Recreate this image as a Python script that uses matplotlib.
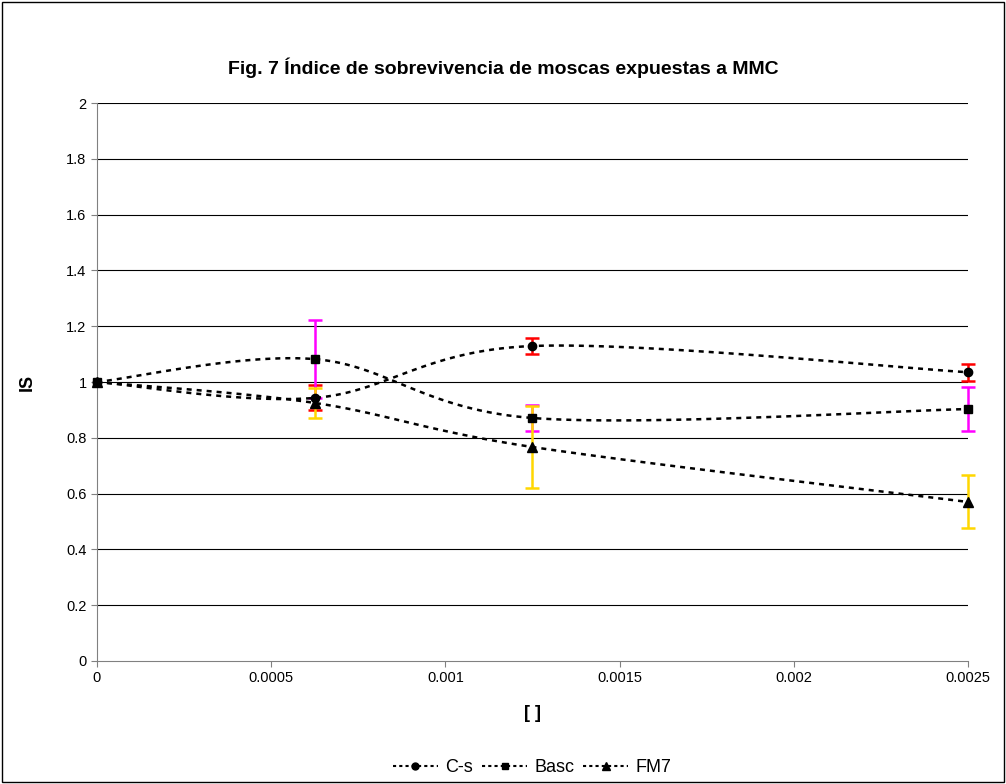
import numpy as np
import matplotlib.pyplot as plt
from matplotlib.patches import Rectangle

plt.rcParams['font.family'] = ['Liberation Sans', 'DejaVu Sans']

# datos
conc = [0, 0.000625, 0.00125, 0.0025]
cs = [1.0, 0.943, 1.129, 1.035]
cs_err = [0, 0.045, 0.03, 0.03]
basc = [1.0, 1.082, 0.871, 0.903]
basc_err = [0, 0.14, 0.047, 0.08]
fm7 = [1.0, 0.925, 0.767, 0.57]
fm7_err = [0, 0.055, 0.147, 0.095]

xticks = [0, 0.0005, 0.001, 0.0015, 0.002, 0.0025]
xlabels = ['0', '0.0005', '0.001', '0.0015', '0.002', '0.0025']
yticks = [0, 0.2, 0.4, 0.6, 0.8, 1, 1.2, 1.4, 1.6, 1.8, 2]
ylabels = ['0', '0.2', '0.4', '0.6', '0.8', '1', '1.2', '1.4', '1.6', '1.8', '2']


def suavizar(x, y, n=40):
    # curva tipo Excel (Catmull-Rom en forma Bezier)
    x = np.asarray(x, float)
    y = np.asarray(y, float)
    px = np.concatenate([[x[0]], x, [x[-1]]])
    py = np.concatenate([[y[0]], y, [y[-1]]])
    xs, ys = [], []
    t = np.linspace(0, 1, n)
    for i in range(1, len(px) - 2):
        p0 = np.array([px[i], py[i]])
        p3 = np.array([px[i + 1], py[i + 1]])
        c1 = p0 + (p3 - np.array([px[i - 1], py[i - 1]])) / 6
        c2 = p3 - (np.array([px[i + 2], py[i + 2]]) - p0) / 6
        b = ((1 - t) ** 3)[:, None] * p0 + (3 * (1 - t) ** 2 * t)[:, None] * c1 \
            + (3 * (1 - t) * t ** 2)[:, None] * c2 + (t ** 3)[:, None] * p3
        xs.extend(b[:, 0])
        ys.extend(b[:, 1])
    return xs, ys


fig = plt.figure(figsize=(10.06, 7.84), dpi=100)
fig.patches.append(Rectangle((0.002, 0.002), 0.996, 0.996, transform=fig.transFigure,
                             fill=False, edgecolor='black', linewidth=1))
ax = fig.add_axes([0.0964, 0.1569, 0.8658, 0.7117])

for v in yticks[1:]:
    ax.axhline(v, color='black', linewidth=0.8, zorder=1)

series = [
    (cs, cs_err, 'o', 6, '#FF0000', 'C-s'),
    (basc, basc_err, 's', 6, '#FF00FF', 'Basc'),
    (fm7, fm7_err, '^', 7, '#FFD700', 'FM7'),
]
for vals, err, mk, ms, ecol, lab in series:
    eb = ax.errorbar(conc[1:], vals[1:], yerr=err[1:], fmt='none', ecolor=ecol,
                     elinewidth=1.8, capsize=5, capthick=1.8, zorder=2)
    for art in eb.lines[1] + eb.lines[2]:
        art.set_clip_on(False)
    sx, sy = suavizar(conc, vals)
    ax.plot(sx, sy, color='black', linestyle=(0, (2, 2)), linewidth=1.8, zorder=3,
            clip_on=False)
    ax.plot(conc, vals, linestyle='none', marker=mk, markersize=ms, color='black',
            zorder=4, clip_on=False)
    ax.plot([], [], color='black', linestyle=(0, (1.5, 1.5)), linewidth=1.5,
            marker=mk, markersize=ms - 1, label=lab)

ax.set_xlim(0, 0.0025)
ax.set_ylim(0, 2)
ax.set_xticks(xticks)
ax.set_xticklabels(xlabels, fontsize=10.5)
ax.set_yticks(yticks)
ax.set_yticklabels(ylabels, fontsize=10.5)
ax.tick_params(direction='out', length=4, color='gray')
for s in ['top', 'right']:
    ax.spines[s].set_visible(False)
ax.spines['left'].set_color('gray')
ax.spines['bottom'].set_color('gray')

ax.set_xlabel('[ ]', fontsize=13, fontweight='bold', labelpad=14)
ax.set_ylabel('IS', fontsize=13, fontweight='bold', labelpad=22)
fig.text(0.5, 0.913, 'Fig. 7 Índice de sobrevivencia de moscas expuestas a MMC',
         ha='center', va='center', fontsize=14, fontweight='bold')

fig.legend(loc='center', bbox_to_anchor=(0.529, 0.021), ncol=3, frameon=False,
           fontsize=13, handlelength=2.5, columnspacing=0.5, handletextpad=0.4,
           borderpad=0)

fig.savefig('out.png', dpi=100)
